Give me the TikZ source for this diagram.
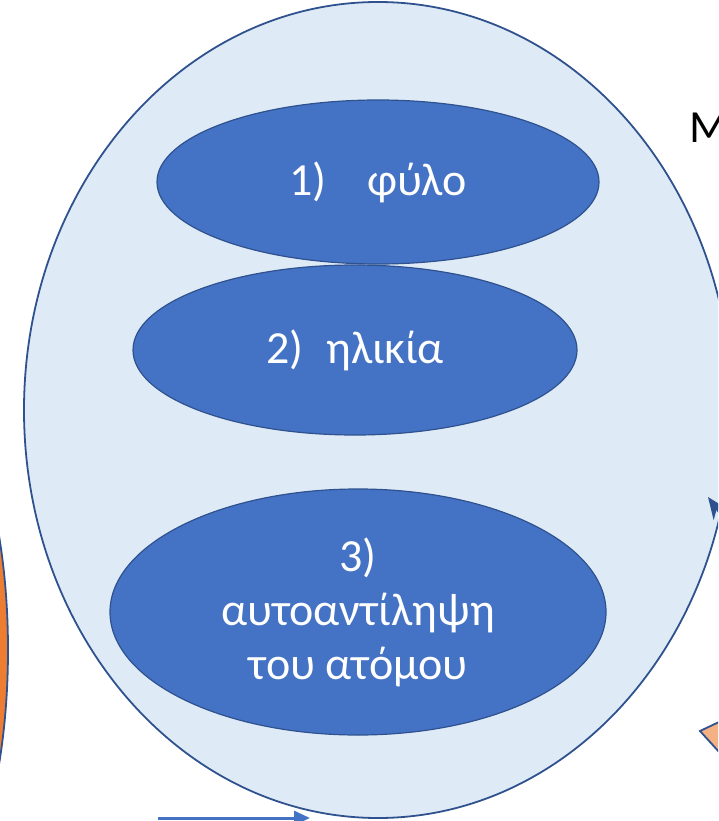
\documentclass[tikz,border=0pt]{standalone}
\usepackage{fontspec}
\setmainfont{Carlito}
\usetikzlibrary{shapes,arrows.meta,positioning}

\definecolor{outer}{HTML}{DEEBF7}
\definecolor{inner}{HTML}{4472C4}
\definecolor{rim}{HTML}{2F528F}
\definecolor{orng}{HTML}{ED7D31}
\definecolor{lorng}{HTML}{F4B183}

\tikzset{
  bigoval/.style={ellipse, draw=rim, fill=outer, line width=1.8pt, inner sep=0pt},
  factor/.style={ellipse, draw=rim, fill=inner, line width=1.2pt, inner sep=0pt,
    text=white, font=\fontsize{46}{54}\selectfont, align=center},
}

\begin{document}
\begin{tikzpicture}[x=1pt, y=-1pt]
  \useasboundingbox (0,0) rectangle (718,821);
  \clip (0,0) rectangle (718,821);
  %side shapes
  \node[ellipse, draw=rim, fill=orng, line width=1.8pt, minimum width=216pt, minimum height=572pt] (left) at (-100,650) {};
  \node[anchor=west, font=\fontsize{46}{54}\selectfont] (mtxt) at (686,128) {M};
  %outer oval
  \node[bigoval, minimum width=708pt, minimum height=816pt] (body) at (378,410) {};
  %factors
  \node[factor, minimum width=442pt, minimum height=164pt] (fylo) at (378,182) {1)\hspace{0.9em}φύλο};
  \node[factor, minimum width=444pt, minimum height=170pt] (ilikia) at (355,350) {2)\hspace{0.5em}ηλικία};
  \node[factor, minimum width=496pt, minimum height=246pt] (autoant) at (358,612) {3)\\αυτοαντίληψη\\του ατόμου};
  %arrows at the edges
  \coordinate (rtip) at (708,497);
  \coordinate (rtail) at (745,548);
  \draw[rim, line width=2pt, -{Stealth[length=22pt, width=18pt]}] (rtail) -- (rtip);
  \coordinate (otip) at (700,731);
  \filldraw[draw=rim, fill=lorng, line width=1.8pt] (otip) -- (740,712) -- (740,775) -- cycle;
  \coordinate (btail) at (158,818);
  \coordinate (bhead) at (310,818);
  \draw[inner, line width=3pt, -{Triangle[length=16pt, width=14pt]}] (btail) -- (bhead);
\end{tikzpicture}
\end{document}
